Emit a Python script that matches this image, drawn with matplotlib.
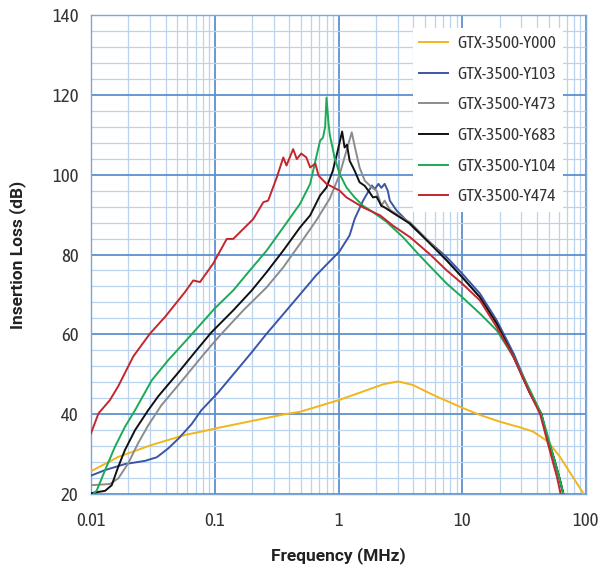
import matplotlib

matplotlib.use("Agg")
import matplotlib.pyplot as plt
from matplotlib import font_manager
from matplotlib.ticker import FixedLocator, FixedFormatter, LogLocator, MultipleLocator, NullFormatter

# prefer a condensed face that also has a bold weight
narrow = {}
for fe in font_manager.fontManager.ttflist:
    if "Narrow" in fe.name or "Condensed" in fe.name:
        w = fe.weight if isinstance(fe.weight, int) else font_manager.weight_dict.get(fe.weight, 400)
        narrow.setdefault(fe.name, set()).add(w)
with_bold = sorted(n for n, ws in narrow.items() if max(ws) >= 600)
base_font = (with_bold or sorted(narrow) or ["Roboto"])[0]
plt.rcParams["font.family"] = [base_font, "DejaVu Sans"]

# series names
names = ["GTX-3500-Y000", "GTX-3500-Y103", "GTX-3500-Y473",
         "GTX-3500-Y683", "GTX-3500-Y104", "GTX-3500-Y474"]
colors = ["#f2b51c", "#3b55a8", "#8c8c8c", "#111111", "#1caa55", "#c3262c"]

# values (frequency in MHz, insertion loss in dB)
f_y000 = [0.01, 0.0166, 0.031, 0.0575, 0.083, 0.1, 0.2, 0.37, 0.49, 1.0, 1.69, 2.3, 3.04, 4.0,
          5.83, 10, 13.9, 20.2, 30, 37.5, 49.5, 61.6, 80, 95]
db_y000 = [25.7, 29.3, 32.3, 34.8, 35.8, 36.4, 38.3, 40, 40.6, 43.5, 46, 47.5, 48.2, 47.3,
           44.8, 41.6, 39.8, 38.1, 36.6, 35.6, 33.1, 29.3, 23.8, 20.2]

f_y103 = [0.01, 0.013, 0.0188, 0.0273, 0.034, 0.042, 0.051, 0.065, 0.078, 0.107, 0.146, 0.199,
          0.26, 0.38, 0.489, 0.66, 1.02, 1.23, 1.35, 1.58, 1.86, 1.97, 2.1, 2.22, 2.36, 2.5, 2.6,
          2.95, 3.3, 4.0, 5.5, 7.5, 10, 13.9, 19, 26, 35.3, 43.6, 48.4, 55, 61.6, 65.6]
db_y103 = [24.6, 26, 27.5, 28.3, 29.2, 31.4, 33.9, 37.5, 41, 45.5, 50.5, 55.5,
           60, 66, 70, 74.8, 80.8, 84.8, 88.9, 93.5, 97.3, 96.4, 97.7, 96.7, 97.7, 96, 93.5,
           91, 89.5, 86.8, 83, 79.3, 75.2, 70.2, 63.5, 55.2, 45.5, 40, 34.5, 29, 23.5, 20]

f_y473 = [0.01, 0.0142, 0.0166, 0.02, 0.024, 0.029, 0.037, 0.0575, 0.078, 0.107, 0.17, 0.263,
          0.358, 0.489, 0.66, 0.85, 1.02, 1.16, 1.28, 1.35, 1.48, 1.63, 1.86, 2.03, 2.22, 2.36,
          2.6, 3.8, 5.5, 7.5, 10, 13.9, 19, 26, 35.3, 43.6, 48.4, 55, 61.6, 65.6]
db_y473 = [22.2, 22.5, 23.9, 27.7, 32.7, 37.2, 42.2, 49.3, 54.3, 59.3, 66, 71.8,
           76.8, 82.7, 88.5, 94, 100, 106, 110.6, 107.2, 101.8, 98.5, 96.8, 96, 92.2, 93.5,
           91.2, 88, 83, 78.5, 74.3, 69.3, 62.7, 54.3, 45.2, 40, 34.3, 29, 23.5, 20]

f_y683 = [0.01, 0.013, 0.0147, 0.0166, 0.0188, 0.0227, 0.029, 0.035, 0.051, 0.069, 0.094,
          0.141, 0.199, 0.263, 0.358, 0.489, 0.59, 0.71, 0.8, 0.9, 0.96, 1.07, 1.12, 1.17,
          1.23, 1.35, 1.48, 1.63, 1.78, 1.9, 2.03, 2.22, 2.36, 2.7, 3.8, 4.57, 7.5, 10, 13.9,
          19, 26, 35.3, 43.6, 48.4, 55, 61.6, 65.6]
db_y683 = [20.2, 20.8, 22.2, 26.8, 31, 36, 41, 44.5, 50.5, 55.5, 60.5,
           66, 71, 75.6, 81, 86.8, 89.8, 94.8, 96.8, 101, 104.5, 110.8, 106.8, 107.5,
           103.5, 101, 98.1, 97.2, 95.6, 94.3, 94.5, 92.2, 91.8, 90.6, 87.7, 85.2, 78.5, 74.3,
           69.3, 62.7, 54.3, 45.2, 40, 34.3, 29, 23.5, 20]

f_y104 = [0.0105, 0.0111, 0.013, 0.0156, 0.0188, 0.0227, 0.031, 0.042, 0.063, 0.1, 0.141,
          0.192, 0.263, 0.358, 0.489, 0.59, 0.66, 0.71, 0.75, 0.78, 0.80, 0.83, 0.85, 0.93,
          1.02, 1.16, 1.35, 1.58, 1.9, 2.42, 3.33, 4.27, 5.5, 7.5, 10, 13.9, 19, 26, 35.3,
          43.6, 48.4, 55, 61.6, 65.6]
db_y104 = [20.2, 20.8, 26, 31.8, 36.8, 41, 48.5, 53.5, 59.5, 66.5, 71,
           76, 81, 86.8, 92.7, 97.7, 104.3, 108.5, 109.3, 112, 119.3, 113, 110, 104.3,
           100.2, 96.8, 94.3, 92.2, 90.6, 88.3, 84.3, 80.6, 77, 72.7, 69.3, 65.2, 61, 54.3, 46,
           40, 35.2, 29, 23.5, 20]

f_y474 = [0.01, 0.0115, 0.0142, 0.0166, 0.022, 0.030, 0.04, 0.0575, 0.067, 0.076, 0.097,
          0.125, 0.141, 0.17, 0.205, 0.247, 0.27, 0.317, 0.358, 0.38, 0.43, 0.46, 0.50, 0.55,
          0.59, 0.65, 0.69, 0.80, 1.02, 1.16, 1.58, 2.17, 2.76, 3.8, 5.5, 7.5, 10, 13.9, 19,
          26, 35.3, 42.6, 48.4, 54, 58.2, 62.4]
db_y474 = [35.2, 40.2, 43.5, 47, 54.5, 60.2, 64.5, 70.6, 73.5, 73.1, 77.7,
           83.9, 83.9, 86.4, 88.9, 93.1, 93.5, 99.3, 104.3, 102.3, 106.4, 103.9, 105.3, 104.3,
           101.8, 102.8, 99.75, 97.7, 96, 94.3, 91.8, 89.8, 87.2, 84.3, 80, 76, 72.7, 68.5, 61.8,
           54.3, 45.2, 40, 33.5, 28, 24.3, 20]

freqs = [f_y000, f_y103, f_y473, f_y683, f_y104, f_y474]
losses = [db_y000, db_y103, db_y473, db_y683, db_y104, db_y474]

x_ticks = [0.01, 0.1, 1, 10, 100]
x_tick_labels = ["0.01", "0.1", "1", "10", "100"]
y_ticks = [20, 40, 60, 80, 100, 120, 140]

fig = plt.figure(figsize=(6.0, 5.72), dpi=100)
ax = fig.add_axes([91 / 600, 1 - 494 / 572, 495 / 600, 479 / 572])

for f, db, name, c in zip(freqs, losses, names, colors):
    ax.plot(f, db, color=c, lw=1.4, label=name, zorder=3)

ax.set_xscale("log")
ax.set_xlim(0.01, 100)
ax.set_ylim(20, 140)
ax.xaxis.set_major_locator(FixedLocator(x_ticks))
ax.xaxis.set_major_formatter(FixedFormatter(x_tick_labels))
ax.xaxis.set_minor_locator(LogLocator(base=10, subs=range(2, 10)))
ax.xaxis.set_minor_formatter(NullFormatter())
ax.yaxis.set_major_locator(FixedLocator(y_ticks))
ax.yaxis.set_minor_locator(MultipleLocator(4))

ax.grid(which="major", color="#5d90cf", lw=1.3, zorder=1)
ax.grid(which="minor", color="#bad4ef", lw=0.9, zorder=0)
ax.set_axisbelow(True)
for s in ax.spines.values():
    s.set_color("#7aa6db")
    s.set_linewidth(1.0)

ax.tick_params(which="both", length=0)
ax.tick_params(axis="x", pad=13, labelsize=13.5, labelcolor="#333333")
ax.tick_params(axis="y", pad=9, labelsize=13.5, labelcolor="#333333")

label_font = ["Roboto", "DejaVu Sans"]
ax.set_xlabel("Frequency (MHz)", fontsize=12.5, fontweight="bold", labelpad=12,
              color="#222222", family=label_font)
ax.set_ylabel("Insertion Loss (dB)", fontsize=12.5, fontweight="bold", labelpad=19,
              color="#222222", family=label_font)

leg = ax.legend(loc="upper right", bbox_to_anchor=(0.972, 0.99), fontsize=12.5,
                frameon=True, facecolor="white", edgecolor="none", framealpha=1,
                fancybox=False, handlelength=1.65, handletextpad=0.55, labelspacing=0.78,
                borderpad=0.4)
for t in leg.get_texts():
    t.set_color("#333333")

fig.savefig("out.png", dpi=100, facecolor="white")
